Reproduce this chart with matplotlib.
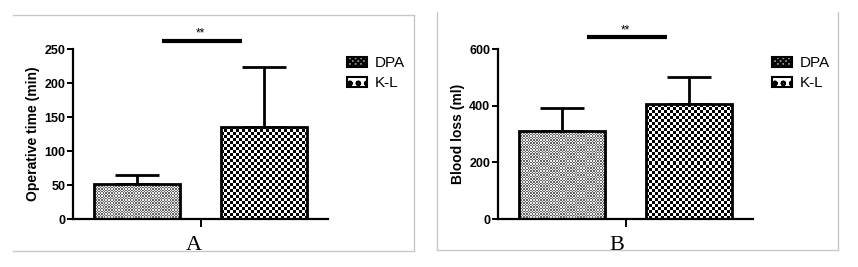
import numpy as np
import matplotlib
matplotlib.use("Agg")
import matplotlib.pyplot as plt
from matplotlib.patches import Patch
from matplotlib.lines import Line2D

# ---- data ----
groups = ["DPA", "K-L"]
op_time_mean = [51, 136]
op_time_err = [14, 88]
blood_mean = [311, 406]
blood_err = [82, 95]
panel_labels = ["A", "B"]
ylabels = ["Operative time (min)", "Blood loss (ml)"]
yticks_a = [0, 50, 100, 150, 200, 250]
yticks_b = [0, 200, 400, 600]
sig_text = "**"

plt.rcParams['font.family'] = ['Liberation Sans', 'DejaVu Sans']
plt.rcParams['hatch.linewidth'] = 1.5

W, H = 858, 267
fig = plt.figure(figsize=(W / 100, H / 100), dpi=100)


def px(x, y):
    return x / W, 1 - y / H


# frames
def fline(x0, y0, x1, y1):
    a = px(x0, y0)
    b = px(x1, y1)
    fig.add_artist(Line2D([a[0], b[0]], [a[1], b[1]], color="#c8c8c8", lw=1.0))

fline(13, 15, 414, 15)
fline(414, 15, 414, 251)
fline(13, 251, 414, 251)
fline(437, 12, 437, 250)
fline(838, 12, 838, 250)
fline(437, 250, 838, 250)


def checker(nx, ny, c0, c1):
    ii, jj = np.meshgrid(np.arange(nx), np.arange(ny))
    return np.where((ii + jj) % 2 == 0, c0, c1)


def textured(ax, bar, cell_px, c0, c1):
    fig.canvas.draw()
    x0, y0 = bar.get_x(), bar.get_y()
    x1, y1 = x0 + bar.get_width(), y0 + bar.get_height()
    p0 = ax.transData.transform((x0, y0))
    p1 = ax.transData.transform((x1, y1))
    nx = max(1, int(round(abs(p1[0] - p0[0]) / cell_px)))
    ny = max(1, int(round(abs(p1[1] - p0[1]) / cell_px)))
    arr = checker(nx, ny, c0, c1)
    im = ax.imshow(arr, extent=(x0, x1, y0, y1), cmap="gray", vmin=0, vmax=1,
                   interpolation="nearest", aspect="auto", zorder=2)
    im.set_clip_path(bar)


def panel(left_px, means, errs, ylim, yticks, ylabel, sig_y, star_y, letter, lab_x_px):
    ax = fig.add_axes([left_px / W, 48 / H, 255 / W, 169.7 / H])
    x = np.arange(len(groups))
    bars = ax.bar(x, means, width=0.675, facecolor="none", edgecolor="black",
                  lw=2, zorder=3)
    ax.errorbar(x, means, yerr=[np.zeros(len(errs)), errs], fmt="none",
                ecolor="black", elinewidth=2, capsize=15.5, capthick=2, zorder=1)
    ax.set_xlim(-0.5, 1.5)
    ax.set_ylim(*ylim)
    ax.set_yticks(yticks)
    ax.set_xticks([0.5])
    ax.set_xticklabels([""])
    for s in ["top", "right"]:
        ax.spines[s].set_visible(False)
    for s in ["left", "bottom"]:
        ax.spines[s].set_linewidth(1.6)
    ax.tick_params(axis="y", length=4, width=1.4, pad=1.5, labelsize=9)
    ax.tick_params(axis="x", length=6, width=1.4)
    for t in ax.get_yticklabels():
        t.set_fontweight("bold")
    ax.set_ylabel(ylabel, fontsize=10, fontweight="bold", labelpad=3)
    textured(ax, bars[0], 1.4, 0.4, 0.92)
    textured(ax, bars[1], 3.0, 0.0, 1.0)
    ax.set_xlim(-0.5, 1.5)
    ax.set_ylim(*ylim)
    ax.plot([0.2, 0.825], [sig_y, sig_y], color="black", lw=3, clip_on=False,
            solid_capstyle="butt")
    ax.text(0.5, star_y, sig_text, ha="center", va="center", fontsize=8.5,
            clip_on=False)
    handles = [Patch(facecolor="#9a9a9a", edgecolor="black", hatch="xxxxxx", lw=1.5),
               Patch(facecolor="white", edgecolor="black", hatch="oo", lw=1.5)]
    ax.legend(handles, groups, loc="upper left", bbox_to_anchor=(1.05, 0.995),
              frameon=False, fontsize=11, handlelength=1.3, handleheight=0.65,
              handletextpad=0.5, labelspacing=0.4, borderaxespad=0)
    fig.text(lab_x_px / W, 1 - 245 / H, letter, ha="center", va="center",
             fontsize=16, family=["Liberation Serif", "DejaVu Serif"])
    return ax


panel(73, op_time_mean, op_time_err, (0, 250), yticks_a, ylabels[0], 262.7, 274,
      panel_labels[0], 194)
panel(498, blood_mean, blood_err, (0, 600), yticks_b, ylabels[1], 644.5, 668,
      panel_labels[1], 617)

fig.savefig("out.png", dpi=100)
